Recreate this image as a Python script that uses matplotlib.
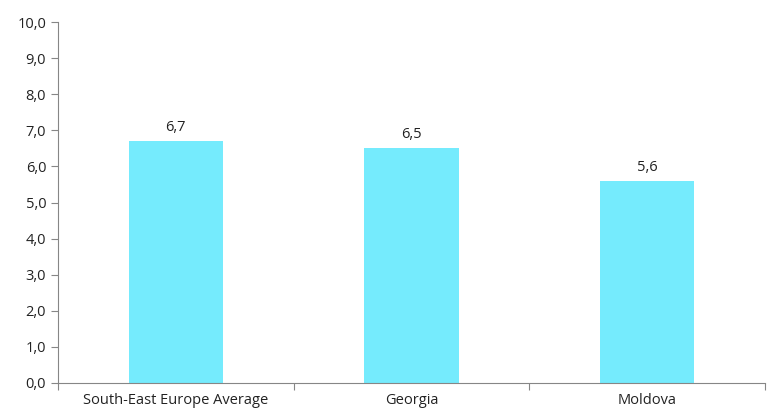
import matplotlib.pyplot as plt
import numpy as np

plt.rcParams['font.family'] = ['Open Sans', 'DejaVu Sans']

categories = ['South-East Europe Average', 'Georgia', 'Moldova']
values = [6.7, 6.5, 5.6]

fig = plt.figure(figsize=(7.68, 4.17), dpi=100)
ax = fig.add_axes([58 / 768, 34 / 417, 707 / 768, 361 / 417])

x = np.arange(len(categories))
ax.bar(x, values, width=0.4, color='#75EBFD', zorder=2)

for xi, v in zip(x, values):
    ax.text(xi, v + 0.17, f'{v:.1f}'.replace('.', ','), ha='center', va='bottom',
            fontsize=10.5, color='#222222')

ax.set_xlim(-0.5, len(categories) - 0.5)
ax.set_ylim(0, 10)
ax.set_yticks(np.arange(0, 11, 1))
ax.set_yticklabels([f'{t:.1f}'.replace('.', ',') for t in range(11)], fontsize=10.5, color='#222222')

# tick marks at category boundaries, labels at centres
ax.set_xticks(np.arange(-0.5, len(categories), 1.0))
ax.set_xticklabels([])
ax.set_xticks(x, minor=True)
ax.set_xticklabels(categories, minor=True, fontsize=10.5, color='#222222')
ax.tick_params(axis='x', which='minor', length=0, pad=7)
ax.tick_params(axis='x', which='major', length=5, color='#868686', direction='out')
ax.tick_params(axis='y', length=5, color='#868686', direction='out')

for side in ['top', 'right']:
    ax.spines[side].set_visible(False)
for side in ['left', 'bottom']:
    ax.spines[side].set_color('#868686')
    ax.spines[side].set_linewidth(0.8)

plt.savefig('out.png', dpi=100)
